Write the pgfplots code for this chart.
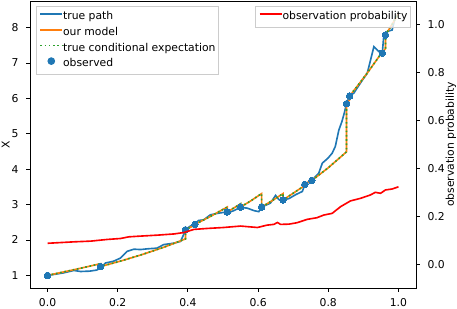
\documentclass[border=0pt]{standalone}
\usepackage{fontspec}
\setmainfont{DejaVu Sans}
\usepackage{pgfplots}
\pgfplotsset{compat=1.18}
\definecolor{C0}{HTML}{1F77B4}
\definecolor{C1}{HTML}{FF7F0E}
\definecolor{C2}{HTML}{2CA02C}
\definecolor{legframe}{HTML}{CCCCCC}
\newcommand{\fs}{\fontsize{10.8}{13}\selectfont}
\pgfplotsset{
  common/.style={
    scale only axis, width=386pt, height=287pt,
    xmin=-0.05, xmax=1.05,
    tick align=outside, major tick length=3.8pt,
    every tick/.style={black, line width=0.86pt},
    axis line style={line width=0.86pt},
    tick label style={font=\fs},
    label style={font=\fs},
    legend style={font=\fs, draw=legframe, line width=1pt, fill=white, fill opacity=0.8, text opacity=1,
      inner xsep=3pt, inner ysep=2.5pt,
      /tikz/every even column/.append style={column sep=7pt},
      nodes={fill=none, draw=none, inner ysep=2.6pt, inner xsep=0pt, text height=8pt, text depth=2.5pt}},
    legend cell align=left,
  },
}
\begin{document}
\begin{tikzpicture}
\begin{axis}[common,
  ymin=0.644, ymax=8.75,
  xtick={0,0.2,0.4,0.6,0.8,1.0}, xticklabels={0.0,0.2,0.4,0.6,0.8,1.0},
  ytick={1,2,3,4,5,6,7,8}, yticklabels={1,2,3,4,5,6,7,8},
  xtick pos=lower, ytick pos=left,
  xticklabel style={anchor=north, inner sep=0pt, yshift=-6.0pt},
  yticklabel style={anchor=east, inner sep=0pt, xshift=-7.6pt},
  ylabel={X},
  ylabel style={at={(axis description cs:-0.0627,0.5)}, anchor=center, rotate=0},
  legend style={at={(axis description cs:0.0155,0.982)}, anchor=north west},
]
\addplot[C0, line width=1.62pt,
  legend image code/.code={\draw[C0, line width=1.62pt, draw opacity=1] (0pt,3pt) -- (22pt,3pt);}] coordinates {
(0,1.0) (0.02,1.03) (0.045,1.07) (0.075,1.14) (0.094,1.11) (0.12,1.12) (0.14,1.15)
(0.151,1.21) (0.165,1.35) (0.188,1.40) (0.208,1.49) (0.227,1.68) (0.246,1.74)
(0.265,1.73) (0.284,1.75) (0.312,1.77) (0.331,1.87) (0.36,1.91) (0.379,1.96)
(0.39,2.2) (0.393,2.29) (0.405,2.38) (0.42,2.45) (0.43,2.55) (0.445,2.57)
(0.464,2.71) (0.483,2.75) (0.502,2.78) (0.512,2.76) (0.531,2.83) (0.55,2.92)
(0.569,2.90) (0.588,2.83) (0.602,2.80) (0.61,2.93) (0.635,3.04) (0.65,3.26)
(0.659,3.14) (0.671,3.13) (0.688,3.17) (0.707,3.28) (0.726,3.37) (0.733,3.56)
(0.753,3.68) (0.773,3.89) (0.783,4.17) (0.799,4.31) (0.811,4.45) (0.82,4.64)
(0.83,5.1) (0.839,5.35) (0.846,5.6) (0.852,5.85) (0.861,6.07) (0.873,6.15)
(0.882,6.29) (0.901,6.57) (0.911,6.71) (0.93,7.46) (0.944,7.32) (0.954,7.28)
(0.958,7.75) (0.968,7.89) (0.982,7.93) (0.991,8.31) (1.0,8.37)
};
\addlegendentry{true path}
\addplot[C1, line width=1.62pt,
  legend image code/.code={\draw[C1, line width=1.62pt, draw opacity=1] (0pt,3pt) -- (22pt,3pt);}] coordinates {
(0,1.0) (0.075,1.16) (0.151,1.33) (0.151,1.25) (0.21,1.41) (0.27,1.59) (0.33,1.79)
(0.393,2.03) (0.393,2.29) (0.42,2.42) (0.42,2.44) (0.465,2.67) (0.512,2.93)
(0.512,2.79) (0.55,3.02) (0.55,2.93) (0.58,3.11) (0.61,3.31) (0.61,2.93)
(0.64,3.11) (0.671,3.31) (0.671,3.13) (0.70,3.32) (0.733,3.54) (0.733,3.57)
(0.753,3.71) (0.753,3.68) (0.80,4.04) (0.852,4.49) (0.852,5.85) (0.861,5.96)
(0.861,6.07) (0.88,6.31) (0.91,6.70) (0.954,7.31) (0.954,7.28) (0.963,7.41)
(0.963,7.79) (0.98,8.06) (1.0,8.39)
};
\addlegendentry{our model}
\addplot[C2, line width=1.62pt, dash pattern=on 1.62pt off 2.67pt,
  legend image code/.code={\draw[C2, line width=1.62pt, draw opacity=1, dash pattern=on 1.62pt off 2.67pt] (0pt,3pt) -- (22pt,3pt);}] coordinates {
(0,1.0) (0.075,1.16) (0.151,1.33) (0.151,1.25) (0.21,1.41) (0.27,1.59) (0.33,1.79)
(0.393,2.03) (0.393,2.29) (0.42,2.42) (0.42,2.44) (0.465,2.67) (0.512,2.93)
(0.512,2.79) (0.55,3.02) (0.55,2.93) (0.58,3.11) (0.61,3.31) (0.61,2.93)
(0.64,3.11) (0.671,3.31) (0.671,3.13) (0.70,3.32) (0.733,3.54) (0.733,3.57)
(0.753,3.71) (0.753,3.68) (0.80,4.04) (0.852,4.49) (0.852,5.85) (0.861,5.96)
(0.861,6.07) (0.88,6.31) (0.91,6.70) (0.954,7.31) (0.954,7.28) (0.963,7.41)
(0.963,7.79) (0.98,8.06) (1.0,8.39)
};
\addlegendentry{true conditional expectation}
\addplot[C0, only marks, mark=*, mark size=3.3pt, mark options={draw=C0, fill=C0, line width=0pt},
  legend image code/.code={\fill[C0, fill opacity=1] (11pt,3pt) circle[radius=3.3pt];}] coordinates {
(0,1.0) (0.151,1.25) (0.393,2.29) (0.42,2.44) (0.512,2.79) (0.55,2.93)
(0.61,2.93) (0.671,3.13) (0.733,3.57) (0.753,3.68) (0.852,5.85) (0.861,6.07)
(0.954,7.28) (0.963,7.79)
};
\addlegendentry{observed}
\end{axis}
\begin{axis}[common,
  axis x line=none, axis y line*=right,
  ymin=-0.1, ymax=1.1,
  ytick={0,0.2,0.4,0.6,0.8,1.0}, yticklabels={0.0,0.2,0.4,0.6,0.8,1.0},
  yticklabel style={anchor=west, inner sep=0pt, xshift=7.6pt},
  ylabel={observation probability},
  ylabel style={at={(axis description cs:1.0907,0.5)}, anchor=center, rotate=0},
  legend style={at={(axis description cs:0.987,0.982)}, anchor=north east},
]
\addplot[red, line width=1.62pt,
  legend image code/.code={\draw[red, line width=1.62pt, draw opacity=1] (0pt,3pt) -- (22pt,3pt);}] coordinates {
(0,0.087) (0.075,0.093) (0.123,0.096) (0.17,0.103) (0.208,0.107) (0.232,0.114)
(0.265,0.117) (0.313,0.121) (0.36,0.126) (0.389,0.132) (0.417,0.145) (0.455,0.149)
(0.502,0.153) (0.55,0.159) (0.598,0.153) (0.626,0.163) (0.645,0.166) (0.655,0.174)
(0.664,0.166) (0.688,0.167) (0.711,0.173) (0.74,0.187) (0.768,0.194) (0.787,0.205)
(0.811,0.212) (0.835,0.24) (0.863,0.264) (0.892,0.275) (0.92,0.289) (0.934,0.30)
(0.949,0.296) (0.963,0.31) (0.982,0.314) (1.0,0.323)
};
\addlegendentry{observation probability}
\end{axis}
\pgfresetboundingbox
\useasboundingbox (-30pt,-20pt) rectangle (427pt,288pt);
\end{tikzpicture}
\end{document}
